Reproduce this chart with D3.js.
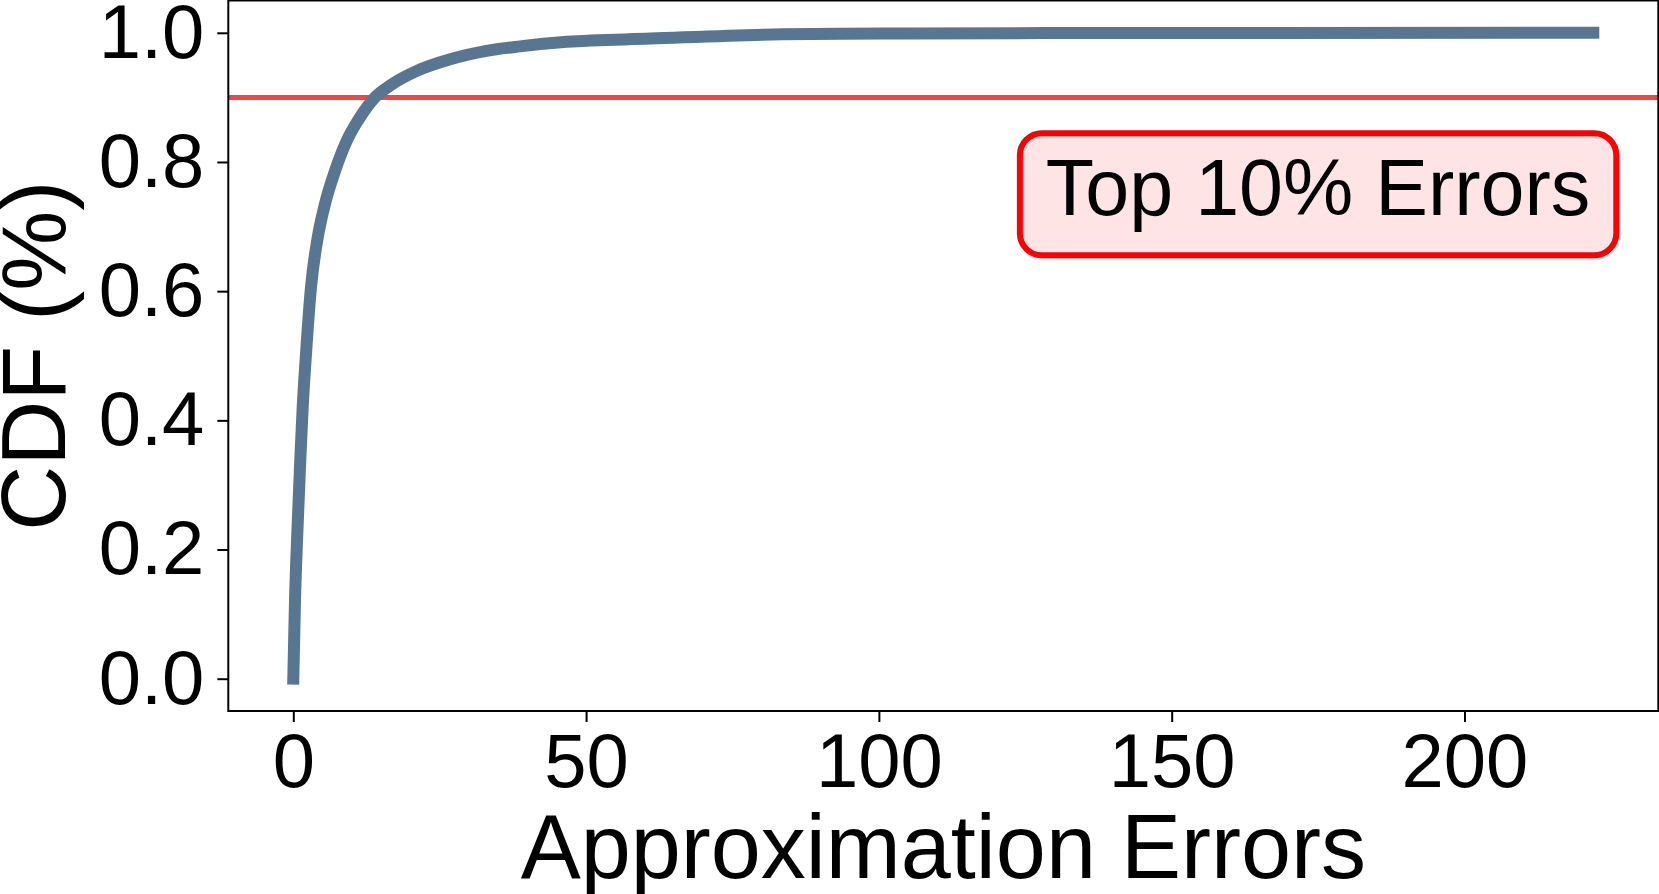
<!DOCTYPE html>
<html>
<head>
<meta charset="utf-8">
<script src="https://cdn.jsdelivr.net/npm/d3@7"></script>
<style>
  body { margin: 0; background: #fff; }
  text { font-family: "Liberation Sans", Arial, sans-serif; }
</style>
</head>
<body>
<div id="chart"></div>
<script>
// CDF of approximation errors
var errVals = [0, 0.29, 0.68, 1.14, 1.6, 2.17, 3.02, 4.17, 5.41, 7.12, 9.4, 11.1, 13.95, 16.8, 21.1, 26.8, 33.0, 38.7, 46.7, 61, 83.6, 100.7, 129.2, 222];
var cdfVals = [0, 0.121, 0.224, 0.327, 0.42, 0.503, 0.606, 0.683, 0.735, 0.786, 0.838, 0.865, 0.90, 0.92, 0.941, 0.959, 0.972, 0.979, 0.986, 0.991, 0.9977, 0.9988, 0.9995, 1.0];
var xTicks = [0, 50, 100, 150, 200];
var yTicks = [0, 0.2, 0.4, 0.6, 0.8, 1.0];
var threshold = 0.9;
var boxLabel = "Top 10% Errors";
var boxAt = [175, 0.75];

var W = 1659, H = 894;
var plotL = 228.3, plotR = 1658.3, plotT = 0.5, plotB = 711;

var svg = d3.select("#chart").append("svg")
  .attr("width", W).attr("height", H);

// matplotlib style 5% margins
var xMax = d3.max(errVals), pad = xMax * 0.05;
var x = d3.scaleLinear().domain([-pad, xMax + pad]).range([plotL, plotR]);
var y = d3.scaleLinear().domain([-0.05, 1.05]).range([plotB, plotT]);

// threshold line across the whole axes
svg.append("line")
  .attr("x1", plotL).attr("x2", plotR)
  .attr("y1", y(threshold)).attr("y2", y(threshold))
  .attr("stroke", "rgb(244,68,70)")
  .attr("stroke-width", 5);

// the cdf curve
var pts = errVals.map(function(d, i) { return [d, cdfVals[i]]; });
var line = d3.line()
  .x(function(d) { return x(d[0]); })
  .y(function(d) { return y(d[1]); })
  .curve(d3.curveMonotoneX);

svg.append("path")
  .datum(pts)
  .attr("d", line)
  .attr("fill", "none")
  .attr("stroke", "#587691")
  .attr("stroke-width", 12)
  .attr("stroke-linecap", "square")
  .attr("stroke-linejoin", "round");

// axes
var xAxis = svg.append("g")
  .attr("transform", "translate(0," + plotB + ")")
  .call(d3.axisBottom(x).tickValues(xTicks).tickSize(11).tickPadding(11));
var yAxis = svg.append("g")
  .attr("transform", "translate(" + plotL + ",0)")
  .call(d3.axisLeft(y).tickValues(yTicks).tickFormat(d3.format(".1f")).tickSize(11).tickPadding(13));

svg.selectAll(".domain").remove();
svg.selectAll(".tick line").attr("stroke", "#000").attr("stroke-width", 2);
svg.selectAll(".tick text")
  .attr("fill", "#000")
  .style("font-size", "76px")
  .style("font-family", "'Liberation Sans', Arial, sans-serif");

// frame
svg.append("rect")
  .attr("x", plotL).attr("y", plotT)
  .attr("width", plotR - plotL).attr("height", plotB - plotT)
  .attr("fill", "none")
  .attr("stroke", "#000")
  .attr("stroke-width", 2);

// axis titles
svg.append("text")
  .attr("x", (plotL + plotR) / 2)
  .attr("y", 878)
  .attr("text-anchor", "middle")
  .style("font-size", "90px")
  .text("Approximation Errors");

svg.append("text")
  .attr("transform", "translate(65," + ((plotT + plotB) / 2) + ") rotate(-90)")
  .attr("text-anchor", "middle")
  .style("font-size", "90px")
  .text("CDF (%)");

// annotation box
var note = svg.append("g");
var noteBox = note.append("rect");
var baseY = y(boxAt[1]) + 21;
var noteText = note.append("text")
  .attr("x", x(boxAt[0]))
  .attr("y", baseY)
  .attr("text-anchor", "middle")
  .style("font-size", "79px")
  .text(boxLabel);

var bb = noteText.node().getBBox();
noteBox
  .attr("x", bb.x - 26)
  .attr("y", baseY - 82)
  .attr("width", bb.width + 52)
  .attr("height", 122)
  .attr("rx", 22).attr("ry", 22)
  .attr("fill", "rgb(255,228,230)")
  .attr("stroke", "#ff0000")
  .attr("stroke-width", 6);
</script>
</body>
</html>
